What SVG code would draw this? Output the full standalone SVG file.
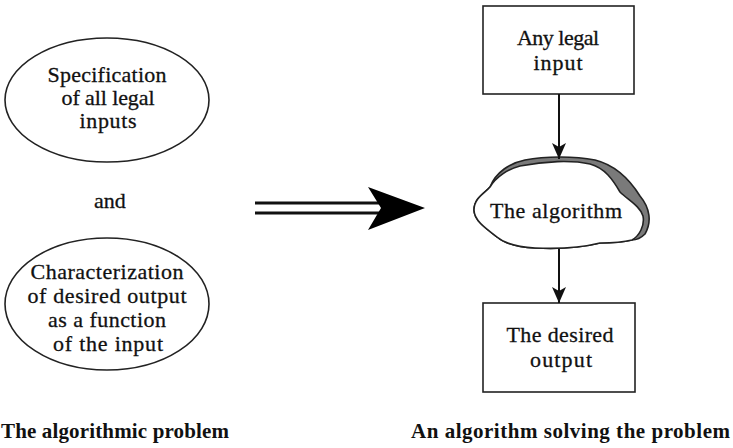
<svg xmlns="http://www.w3.org/2000/svg" width="733" height="448" viewBox="0 0 733 448">
<defs>
<style>
.t{font-family:"Liberation Serif","Times New Roman",serif;font-size:22px;fill:#111;text-anchor:middle;stroke:#111;stroke-width:0.3}
.c{font-family:"Liberation Serif","Times New Roman",serif;font-size:21px;font-weight:bold;fill:#111}
.s{fill:#fff;stroke:#222;stroke-width:1.6}
.ln{stroke:#111;stroke-width:2;fill:none}
</style>
<marker id="ah" markerWidth="16" markerHeight="14" refX="16" refY="7" orient="auto" markerUnits="userSpaceOnUse" viewBox="0 0 16 14">
<path d="M0,0 L16,7 L0,14 L4,7 Z" fill="#111"/>
</marker>
</defs>
<rect width="733" height="448" fill="#fff"/>
<g id="spec">
<ellipse class="s" cx="107" cy="100" rx="102" ry="62"/>
<text class="t" x="107" y="82" textLength="119">Specification</text>
<text class="t" x="108" y="105" textLength="93">of all legal</text>
<text class="t" x="108" y="128" textLength="57">inputs</text>
</g>
<g id="and">
<text class="t" x="110" y="208">and</text>
</g>
<g id="charac">
<ellipse class="s" cx="107" cy="304" rx="102" ry="66"/>
<text class="t" x="107" y="279" textLength="153">Characterization</text>
<text class="t" x="107" y="303" textLength="159">of desired output</text>
<text class="t" x="107" y="327" textLength="118">as a function</text>
<text class="t" x="108" y="351" textLength="110">of the input</text>
</g>
<g id="anyinput">
<rect class="s" x="483" y="6" width="151" height="88"/>
<text class="t" x="558" y="45" textLength="82">Any legal</text>
<text class="t" x="558" y="70" textLength="49">input</text>
</g>
<g id="algorithm">
<path d="M490,187 C496,172 510,163 525,160 C545,156 575,156 595,160 C615,165 630,180 640,196 C650,208 652,222 645,234 C641,238 636,240 632,240 C620,243 610,243 600,243 C580,248 555,249 535,248 C515,247 503,242 497,237 C485,228 474,220 474,210 C474,198 485,193 490,187 Z" fill="#7a7a7a" stroke="#222" stroke-width="1.6"/>
<path d="M490,187 C496,177 508,169 520,166 C545,161 572,160 590,164 C605,168 613,180 620,192 C628,200 640,206 643,216 C645,226 639,236 632,240 C620,243 610,243 600,243 C580,248 555,249 535,248 C515,247 503,242 497,237 C485,228 474,220 474,210 C474,198 485,193 490,187 Z" fill="#fff" stroke="#222" stroke-width="1.6"/>
<text class="t" x="556" y="218" textLength="132">The algorithm</text>
</g>
<g id="output">
<rect class="s" x="483" y="303" width="152" height="89"/>
<text class="t" x="560" y="342" textLength="107">The desired</text>
<text class="t" x="561" y="367" textLength="62">output</text>
</g>
<g id="connectors">
<line class="ln" x1="559" y1="94" x2="559" y2="159" marker-end="url(#ah)"/>
<line class="ln" x1="559" y1="249" x2="559" y2="303" marker-end="url(#ah)"/>
<line x1="255" y1="203" x2="382" y2="203" stroke="#111" stroke-width="3"/>
<line x1="255" y1="213" x2="382" y2="213" stroke="#111" stroke-width="3"/>
<polygon points="368,187 425,208 368,230 381,208" fill="#000"/>
</g>
<g id="captions">
<text class="c" x="1" y="438" textLength="228">The algorithmic problem</text>
<text class="c" x="411" y="438" textLength="319">An algorithm solving the problem</text>
</g>
</svg>
